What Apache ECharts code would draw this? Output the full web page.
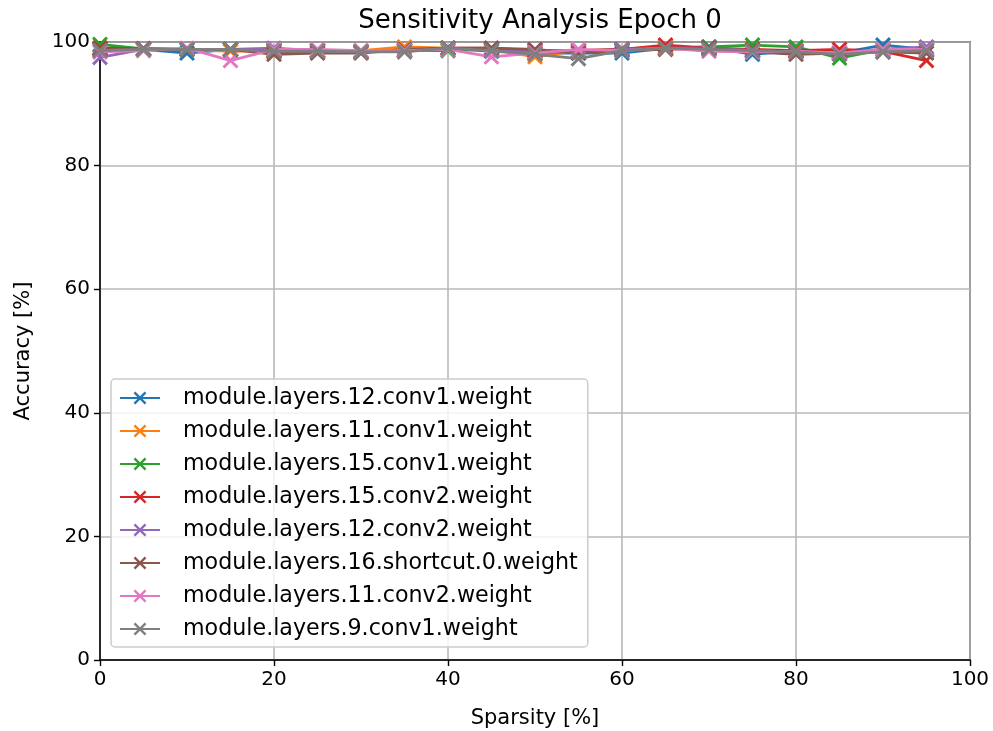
<!DOCTYPE html>
<html>
<head>
<meta charset="utf-8">
<script src="https://cdn.jsdelivr.net/npm/echarts@6/dist/echarts.min.js"></script>
<style>
  html, body { margin: 0; padding: 0; background: #fff; }
  #chart { width: 993px; height: 731px; }
</style>
</head>
<body>
<div id="chart"></div>
<script>
// Sparsity levels (%) at which each layer was pruned
const sparsity = [0, 5, 10, 15, 20, 25, 30, 35, 40, 45, 50, 55, 60, 65, 70, 75, 80, 85, 90, 95];

const layerNames = [
  'module.layers.12.conv1.weight',
  'module.layers.11.conv1.weight',
  'module.layers.15.conv1.weight',
  'module.layers.15.conv2.weight',
  'module.layers.12.conv2.weight',
  'module.layers.16.shortcut.0.weight',
  'module.layers.11.conv2.weight',
  'module.layers.9.conv1.weight'
];

// Accuracy (%) per layer at each sparsity level
const acc12conv1 = [99.0, 98.8, 98.2, 98.8, 98.8, 98.6, 98.4, 98.6, 99.0, 98.5, 98.2, 98.2, 98.2, 99.0, 99.2, 98.0, 98.6, 98.2, 99.5, 98.8];
const acc11conv1 = [99.0, 98.9, 98.8, 98.5, 98.6, 98.6, 98.6, 99.2, 99.0, 98.8, 97.6, 98.6, 98.8, 99.2, 99.0, 98.6, 98.6, 98.3, 98.8, 98.8];
const acc15conv1 = [99.6, 98.9, 98.8, 98.8, 98.6, 98.6, 98.4, 98.6, 98.6, 98.8, 98.2, 98.5, 98.8, 99.0, 99.2, 99.5, 99.2, 97.4, 98.8, 98.6];
const acc15conv2 = [99.0, 98.9, 98.8, 98.8, 98.4, 98.4, 98.4, 98.6, 99.0, 99.0, 98.6, 98.6, 98.8, 99.5, 99.0, 98.8, 98.6, 98.8, 98.5, 97.0];
const acc12conv2 = [97.5, 98.8, 98.8, 98.8, 99.0, 98.6, 98.4, 98.6, 99.0, 98.8, 98.4, 98.4, 98.8, 99.0, 99.0, 98.6, 98.4, 98.2, 98.8, 99.2];
const acc16short = [98.8, 98.9, 98.8, 98.8, 98.0, 98.2, 98.2, 98.8, 99.0, 99.0, 98.8, 98.2, 98.6, 98.8, 99.0, 98.4, 98.0, 98.2, 98.4, 98.2];
const acc11conv2 = [98.4, 98.6, 99.0, 97.0, 98.8, 98.8, 98.6, 98.6, 98.8, 97.6, 98.2, 98.8, 98.6, 99.0, 98.5, 98.4, 98.5, 98.2, 98.8, 98.8];
const acc9conv1  = [98.6, 98.8, 98.8, 98.8, 98.5, 98.5, 98.4, 98.4, 99.0, 98.6, 98.0, 97.3, 98.6, 99.0, 98.8, 98.6, 98.4, 98.0, 98.4, 98.6];

const accuracies = [acc12conv1, acc11conv1, acc15conv1, acc15conv2, acc12conv2, acc16short, acc11conv2, acc9conv1];

const palette = ['#1f77b4', '#ff7f0e', '#2ca02c', '#d62728', '#9467bd', '#8c564b', '#e377c2', '#7f7f7f'];

const axisTicks = [0, 20, 40, 60, 80, 100];

// Diagonal cross marker drawn as a filled outline
const crossMarker = 'path://M0,1.3L1.3,0L5,3.7L8.7,0L10,1.3L6.3,5L10,8.7L8.7,10L5,6.3L1.3,10L0,8.7L3.7,5Z';

const FONT = 'DejaVu Sans';

const series = layerNames.map((name, i) => ({
  name: name,
  type: 'line',
  data: sparsity.map((s, j) => [s, accuracies[i][j]]),
  symbol: crossMarker,
  symbolSize: 16,
  showSymbol: true,
  lineStyle: { width: 2.8, color: palette[i] },
  itemStyle: { color: palette[i] },
  emphasis: { disabled: true },
  z: 3 + i
}));

const chart = echarts.init(document.getElementById('chart'), null, { renderer: 'canvas' });

const axisCommon = {
  min: 0,
  max: 100,
  interval: 20,
  axisLine: { show: true, lineStyle: { color: '#000', width: 1.5 } },
  axisTick: { show: true, inside: false, length: 6, lineStyle: { color: '#000', width: 1.4 } },
  axisLabel: { color: '#000', fontSize: 20, fontFamily: FONT, margin: 10 },
  splitLine: { show: true, lineStyle: { color: '#b8b8b8', width: 1.6 } },
  nameLocation: 'middle',
  nameTextStyle: { color: '#000', fontSize: 21, fontFamily: FONT }
};

chart.setOption({
  backgroundColor: '#fff',
  animation: false,
  color: palette,
  title: {
    text: 'Sensitivity Analysis Epoch 0',
    left: 535,
    top: 3,
    textAlign: 'center',
    textStyle: { fontFamily: FONT, fontSize: 26, fontWeight: 'normal', color: '#000' }
  },
  grid: {
    left: 100,
    right: 23,
    top: 42,
    bottom: 71,
    containLabel: false,
    outerBoundsMode: 'none',
    show: true,
    borderColor: '#000',
    borderWidth: 1.5,
    backgroundColor: 'transparent'
  },
  legend: {
    orient: 'vertical',
    left: 111,
    top: 379,
    data: layerNames,
    itemWidth: 40,
    itemHeight: 16,
    itemGap: 7,
    padding: [6, 10, 5, 8],
    backgroundColor: 'rgba(255,255,255,0.8)',
    borderColor: '#cccccc',
    borderWidth: 1.5,
    borderRadius: 4,
    textStyle: { fontFamily: FONT, fontSize: 22.2, color: '#000', padding: [0, 0, 0, 18], lineHeight: 26 }
  },
  xAxis: Object.assign({}, axisCommon, {
    type: 'value',
    name: 'Sparsity [%]',
    nameGap: 48,
    axisLabel: Object.assign({}, axisCommon.axisLabel, {
      formatter: v => axisTicks.includes(v) ? String(v) : ''
    })
  }),
  yAxis: Object.assign({}, axisCommon, {
    type: 'value',
    name: 'Accuracy [%]',
    nameGap: 66,
    nameRotate: 90
  }),
  series: series
});
</script>
</body>
</html>
